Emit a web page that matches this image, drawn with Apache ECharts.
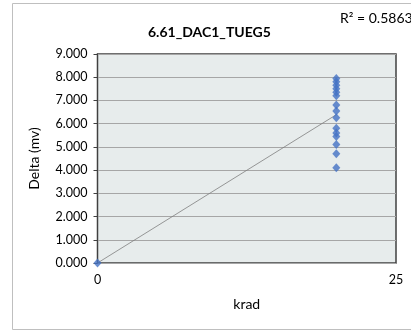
<!DOCTYPE html>
<html><head><meta charset="utf-8">
<script src="https://cdn.jsdelivr.net/npm/echarts@6/dist/echarts.min.js"></script>
<style>html,body{margin:0;padding:0;background:#fff}#c{width:411px;height:333px}</style>
</head><body><div id="c"></div>
<script>
const title = "6.61_DAC1_TUEG5";
const r2Text = "R² = 0.5863";
const xName = "krad";
const yName = "Delta (mv)";
const xTicks = [0, 25];
const xValues = [0, 20, 20, 20, 20, 20, 20, 20, 20, 20, 20, 20, 20, 20, 20, 20];
const yValues = [0, 7.95, 7.8, 7.65, 7.5, 7.35, 7.2, 6.8, 6.55, 6.25, 5.8, 5.6, 5.45, 5.1, 4.7, 4.1];

// least-squares trendline from the data
const n = xValues.length;
const mx = xValues.reduce((a,b)=>a+b,0)/n;
const my = yValues.reduce((a,b)=>a+b,0)/n;
let sxy=0,sxx=0;
for(let i=0;i<n;i++){sxy+=(xValues[i]-mx)*(yValues[i]-my);sxx+=(xValues[i]-mx)**2;}
const slope = sxy/sxx, icpt = my - slope*mx;
const xmin = Math.min(...xValues), xmax = Math.max(...xValues);
const trend = [[xmin, icpt+slope*xmin],[xmax, icpt+slope*xmax]];

const font = "Lato, 'Open Sans', sans-serif";
const chart = echarts.init(document.getElementById('c'), null, {renderer:'canvas'});
chart.setOption({
  animation:false,
  graphic:[
    {type:'rect', shape:{x:12.5,y:3.5,width:420,height:326}, style:{fill:'none', stroke:'#BFBFBF', lineWidth:1}, z:-10},
    {type:'text', left:148, top:25, style:{text:title, font:"bold 14px "+font, fill:'#000'}},
    {type:'text', left:340, top:11, style:{text:r2Text, font:"14px "+font, fill:'#000'}}
  ],
  grid:{left:97.5, right:15, top:54, bottom:70, show:true, backgroundColor:'#E7ECEC', borderColor:'#404040', borderWidth:1.5},
  xAxis:{type:'value', min:0, max:25, interval:25,
    name:xName, nameLocation:'middle', nameGap:34, nameTextStyle:{fontFamily:font, fontSize:14, color:'#000'},
    axisLine:{show:false}, axisTick:{show:false}, splitLine:{show:false},
    axisLabel:{fontFamily:font, fontSize:12.5, color:'#000', margin:10}},
  yAxis:{type:'value', min:0, max:9, interval:1,
    name:yName, nameLocation:'middle', nameGap:56, nameTextStyle:{fontFamily:font, fontSize:14, color:'#000'},
    axisLine:{show:true, lineStyle:{color:'#404040', width:1}}, axisTick:{show:true, length:4, lineStyle:{color:'#404040'}},
    splitLine:{show:true, lineStyle:{color:'#A6A6A6', width:1}},
    axisLabel:{fontFamily:font, fontSize:12.5, color:'#000', margin:10, formatter:v=>v.toFixed(3)}},
  series:[
    {type:'line', data:trend, symbol:'none', lineStyle:{color:'#7F7F7F', width:0.8}, z:2},
    {type:'scatter', data:xValues.map((x,i)=>[x,yValues[i]]), symbol:'diamond', symbolSize:[8,9], itemStyle:{color:'#4472C4'}, z:3}
  ]
});
</script></body></html>
